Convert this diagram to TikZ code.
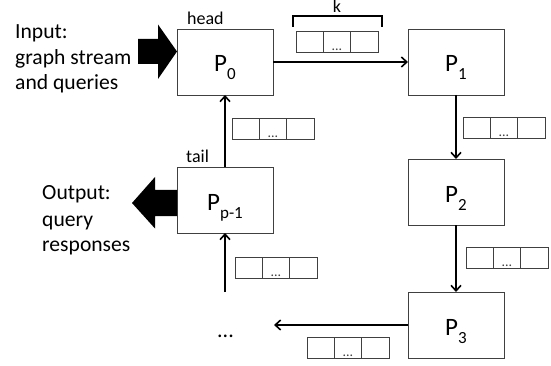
\documentclass[tikz,border=0pt]{standalone}
\usepackage{fontspec}
\setmainfont{Carlito}
\usetikzlibrary{arrows.meta}
\newcommand\procname[2]{P\raisebox{-8pt}{\fontsize{17}{17}\selectfont #2}}
\tikzset{
  proc/.style={draw=black!75, line width=0.9pt, minimum width=96pt, minimum height=66pt, inner sep=0pt, outer sep=0pt},
  plabel/.style={anchor=base, inner sep=0pt, font=\fontsize{25}{28}\selectfont},
  link/.style={line width=1.8pt, -{Straight Barb[length=5.5pt,width=10pt,line width=1.6pt]}},
  cell/.style={draw=black!75, line width=0.8pt, minimum width=27.3pt, minimum height=21pt, inner sep=0pt, outer sep=0pt},
  celldots/.style={anchor=base, inner sep=0pt, text=black!75, font=\fontsize{14}{14}\selectfont},
  side/.style={anchor=base west, inner sep=0pt, font=\fontsize{21.6}{25}\selectfont},
  small/.style={anchor=base west, inner sep=0pt, font=\fontsize{18}{20}\selectfont},
  buf/.pic={
    \node[cell, anchor=north west] (-a) at (0,0) {};
    \node[cell, anchor=west] (-b) at (-a.east) {};
    \node[cell, anchor=west] (-c) at (-b.east) {};
    \node[celldots] (-d) at ([yshift=1.5pt]-b.south) {...};
  },
}
\begin{document}
\begin{tikzpicture}[x=1pt,y=-1pt]
\useasboundingbox (0,0) rectangle (551,366);

% processors
\node[proc] (p0) at (225,62) {};
\node[proc] (p1) at (456,62) {};
\node[proc] (p2) at (456,192) {};
\node[proc] (p3) at (456,325) {};
\node[proc] (pp) at (225,200) {};

\node[plabel] (l0) at ([yshift=-10pt]p0.center) {\procname{}{0}};
\node[plabel] (l1) at ([yshift=-10pt]p1.center) {\procname{}{1}};
\node[plabel] (l2) at ([yshift=-10pt]p2.center) {\procname{}{2}};
\node[plabel] (l3) at ([yshift=-10pt]p3.center) {\procname{}{3}};
\node[plabel] (lp) at ([yshift=-10pt]pp.center) {\procname{}{p-1}};

\node[small] (head) at (187,25) {head};
\node[small] (tail) at (186,163) {tail};

% connectors
\coordinate (dend) at (274,325);
\coordinate (ustart) at (225,292);
\draw[link] (p0) -- (p1);
\draw[link] (p1) -- (p2);
\draw[link] (p2) -- (p3);
\draw[link] (p3.west) -- (dend);
\draw[link] (ustart) -- (pp.south);
\draw[link] (pp) -- (p0);

\node[anchor=base, inner sep=0pt, font=\fontsize{22}{22}\selectfont] (ell) at (225.5,337) {...};

% buffers
\pic (b1) at (296,31) {buf};
\pic (b2) at (463,117.5) {buf};
\pic (b3) at (466,247) {buf};
\pic (b4) at (307,337) {buf};
\pic (b5) at (235,257) {buf};
\pic (b6) at (232,118) {buf};

% brace k
\draw[line width=1.8pt] ([xshift=-3pt,yshift=4pt]b1-a.north west) -- ([xshift=-3pt,yshift=15pt]b1-a.north west)
  -- ([xshift=4pt,yshift=15pt]b1-c.north east) -- ([xshift=4pt,yshift=4pt]b1-c.north east);
\node[anchor=base, inner sep=0pt, font=\fontsize{18}{20}\selectfont] (k) at (337,13) {k};

% input / output arrows
\fill (138,39) -- (158,39) -- (158,24.5) -- (177,51.5) -- (158,79) -- (158,64) -- (138,64) -- cycle;
\fill (177,190) -- (155,190) -- (155,177) -- (132,203) -- (155,228.5) -- (155,216) -- (177,216) -- cycle;

\node[side] (in1) at (15,39) {Input:};
\node[side] (in2) at (15,65) {graph stream};
\node[side] (in3) at (15,90) {and queries};
\node[side] (out1) at (42,200) {Output:};
\node[side] (out2) at (42,226) {query};
\node[side] (out3) at (42,251) {responses};
\end{tikzpicture}
\end{document}
